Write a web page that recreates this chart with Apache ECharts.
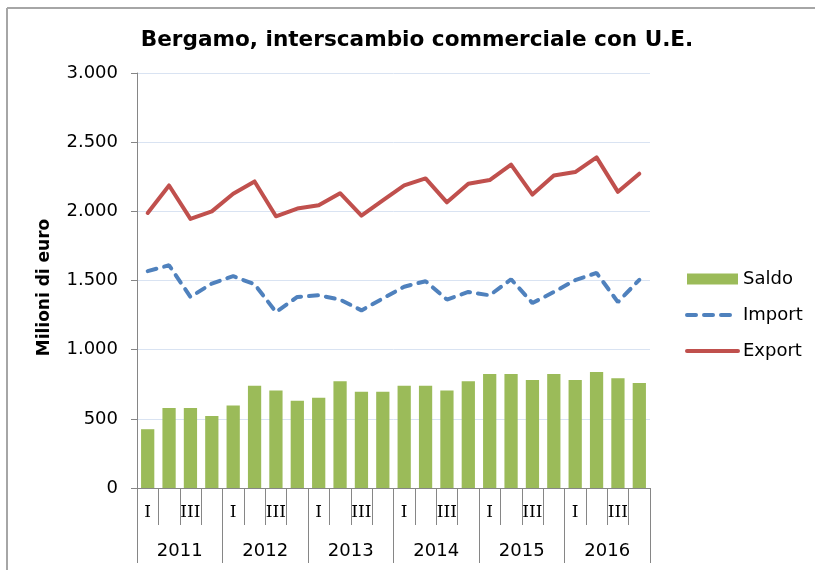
<!DOCTYPE html>
<html>
<head>
<meta charset="utf-8">
<script src="https://cdn.jsdelivr.net/npm/echarts@6/dist/echarts.min.js"></script>
<style>
html,body{margin:0;padding:0;background:#fff;}
#c{width:815px;height:570px;}
</style>
</head>
<body>
<div id="c"></div>
<script>
var quarters = ["I","II","III","IV","I","II","III","IV","I","II","III","IV","I","II","III","IV","I","II","III","IV","I","II","III","IV"];
var years = ["2011","2012","2013","2014","2015","2016"];
var saldo = [425, 578, 578, 521, 596, 739, 705, 630, 652, 771, 696, 696, 739, 739, 705, 771, 825, 825, 781, 825, 781, 838, 794, 759];
var importVals = [1568, 1610, 1381, 1478, 1531, 1473, 1272, 1381, 1393, 1362, 1284, 1370, 1455, 1495, 1362, 1417, 1393, 1509, 1337, 1417, 1502, 1555, 1344, 1505];
var exportVals = [1988, 2187, 1945, 2000, 2127, 2216, 1964, 2020, 2044, 2131, 1969, 2080, 2187, 2238, 2065, 2200, 2226, 2338, 2121, 2259, 2284, 2390, 2141, 2272];

var chart = echarts.init(document.getElementById('c'), null, {renderer:'canvas'});
var axisGray = '#868686';
var fmt = function(v){ return String(v).replace(/\B(?=(\d{3})+(?!\d))/g, '.'); };

chart.setOption({
  animation: false,
  backgroundColor: '#fff',
  graphic: [{
    type: 'line', z: -1,
    shape: {x1: 7, y1: 8, x2: 815, y2: 8},
    style: {stroke: '#a6a6a6', lineWidth: 2}
  }, {
    type: 'line', z: -1,
    shape: {x1: 7, y1: 8, x2: 7, y2: 570},
    style: {stroke: '#a6a6a6', lineWidth: 2}
  }],
  title: {
    text: 'Bergamo, interscambio commerciale con U.E.',
    left: 412, top: 24, textAlign: 'center',
    textStyle: {fontFamily: 'DejaVu Sans', fontWeight: 'bold', fontSize: 21.6, color: '#000'}
  },
  legend: {
    orient: 'vertical', left: 680, top: 265,
    itemWidth: 51, itemHeight: 11, itemGap: 18,
    textStyle: {fontFamily: 'DejaVu Sans', fontSize: 18, color: '#000'},
    data: [
      {name: 'Saldo', icon: 'rect'},
      {name: 'Import', itemStyle: {opacity: 0}, lineStyle: {width: 4, type: [9, 8], cap: 'round'}},
      {name: 'Export', itemStyle: {opacity: 0}, lineStyle: {width: 4, cap: 'round'}}
    ]
  },
  grid: {left: 137, right: 165, top: 73, bottom: 82, containLabel: false},
  xAxis: [{
    type: 'category', data: quarters, position: 'bottom', offset: 0,
    axisLine: {show: true, lineStyle: {color: axisGray, width: 1}},
    axisTick: {show: true, interval: 0, length: 37, lineStyle: {color: axisGray}},
    axisLabel: {interval: 1, margin: 16, fontFamily: 'DejaVu Serif', fontSize: 17, color: '#000'}
  }, {
    type: 'category', data: years, position: 'bottom', offset: 0,
    axisLine: {show: false},
    axisTick: {show: true, interval: 0, length: 75, lineStyle: {color: axisGray}},
    axisLabel: {interval: 0, margin: 54, fontFamily: 'DejaVu Sans', fontSize: 18, color: '#000'}
  }],
  yAxis: {
    type: 'value', min: 0, max: 3000, interval: 500,
    name: 'Milioni di euro', nameLocation: 'middle', nameGap: 84, nameRotate: 90,
    nameTextStyle: {fontFamily: 'DejaVu Sans', fontWeight: 'bold', fontSize: 17, color: '#000', padding: [0, 14, 0, 0]},
    axisLine: {show: true, lineStyle: {color: axisGray, width: 1}},
    axisTick: {show: true, length: 6, lineStyle: {color: axisGray}},
    axisLabel: {margin: 19, formatter: fmt, fontFamily: 'DejaVu Sans', fontSize: 18, color: '#000'},
    splitLine: {show: true, lineStyle: {color: '#d9e3f2', width: 1}}
  },
  series: [{
    name: 'Saldo', type: 'bar', data: saldo, barWidth: '62%',
    itemStyle: {color: '#9bbb59'}
  }, {
    name: 'Import', type: 'line', data: importVals, symbol: 'none', smooth: false,
    lineStyle: {color: '#4f81bd', width: 4, type: [9, 8], cap: 'round'},
    itemStyle: {color: '#4f81bd'}
  }, {
    name: 'Export', type: 'line', data: exportVals, symbol: 'none', smooth: false,
    lineStyle: {color: '#c0504d', width: 4, cap: 'round', join: 'round'},
    itemStyle: {color: '#c0504d'}
  }]
});
</script>
</body>
</html>
